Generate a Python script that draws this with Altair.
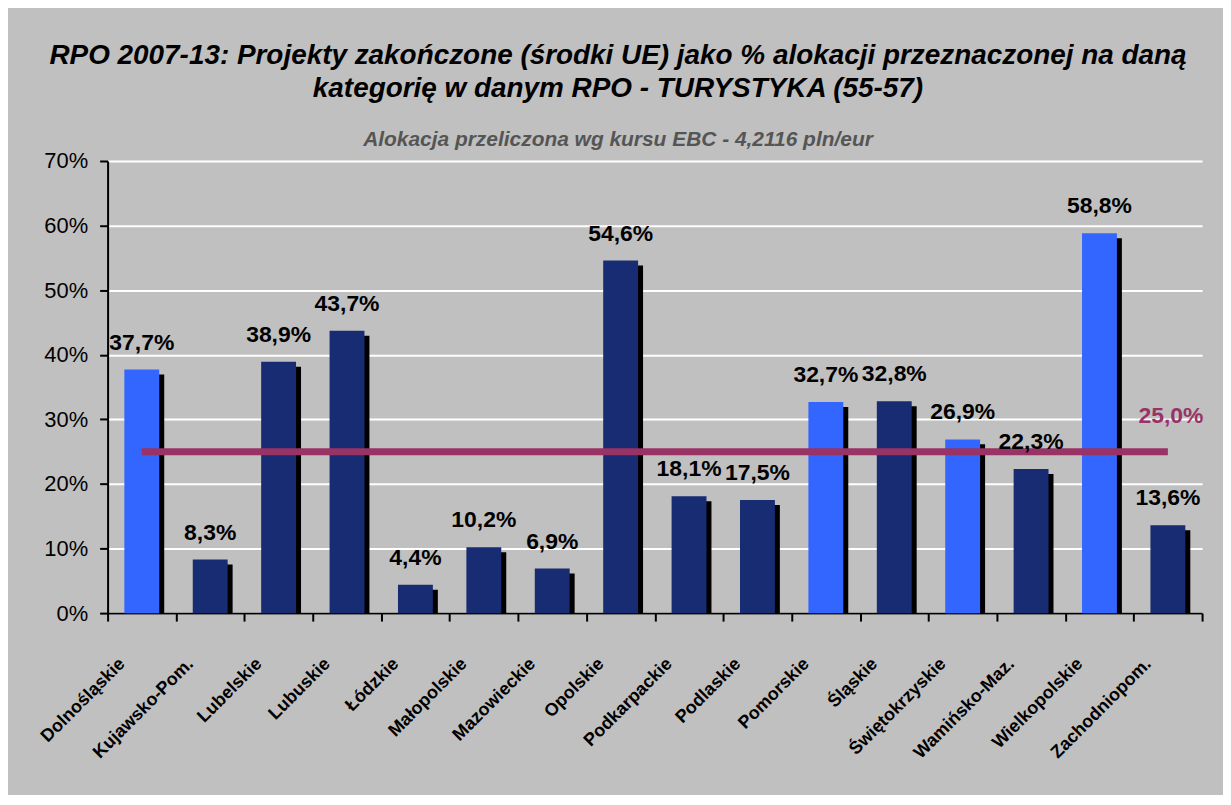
import altair as alt
import pandas as pd

categories = ["Dolnośląskie", "Kujawsko-Pom.", "Lubelskie", "Lubuskie", "Łódzkie",
              "Małopolskie", "Mazowieckie", "Opolskie", "Podkarpackie", "Podlaskie",
              "Pomorskie", "Śląskie", "Świętokrzyskie", "Wamińsko-Maz.", "Wielkopolskie",
              "Zachodniopom."]
values = [37.7, 8.3, 38.9, 43.7, 4.4, 10.2, 6.9, 54.6, 18.1, 17.5,
          32.7, 32.8, 26.9, 22.3, 58.8, 13.6]
highlighted = ["Dolnośląskie", "Pomorskie", "Świętokrzyskie", "Wielkopolskie"]
target = 25.0
y_ticks = [0, 10, 20, 30, 40, 50, 60, 70]

title_lines = ["RPO 2007-13: Projekty zakończone (środki UE) jako % alokacji przeznaczonej na daną",
               "kategorię w danym RPO - TURYSTYKA (55-57)"]
subtitle = "Alokacja przeliczona wg kursu EBC - 4,2116 pln/eur"

NAVY = "#172C72"
BLUE = "#3366FF"
MAROON = "#993366"
FONT = "Liberation Sans"

df = pd.DataFrame({
    "region": categories,
    "value": values,
    "kind": ["hi" if c in highlighted else "lo" for c in categories],
    "label": [f"{v:.1f}".replace(".", ",") + "%" for v in values],
})
ref = pd.DataFrame({"start": [categories[0]], "end": [categories[-1]], "y": [target],
                    "label": [f"{target:.1f}".replace(".", ",") + "%"]})

xscale = alt.Scale(domain=categories, paddingInner=0, paddingOuter=0)
yscale = alt.Scale(domain=[0, 70], nice=False)

x_enc = alt.X("region:N", scale=xscale, sort=categories, title=None,
              axis=alt.Axis(labelAngle=-45, labelAlign="right", labelBaseline="middle",
                            labelFont=FONT, labelFontSize=18, labelFontWeight="bold",
                            labelColor="#000000", labelOffset=-20, labelPadding=40,
                            tickBand="extent", ticks=True, tickSize=8,
                            tickWidth=2, tickColor="#000000", domainColor="#000000",
                            domainWidth=2, grid=False))
y_enc = alt.Y("value:Q", scale=yscale, title=None,
              axis=alt.Axis(values=y_ticks, labelExpr="datum.value + '%'",
                            labelFont=FONT, labelFontSize=22, labelColor="#000000",
                            labelPadding=12, tickSize=8, tickWidth=2, tickColor="#000000",
                            domainColor="#000000", domainWidth=2,
                            grid=True, gridColor="#FFFFFF", gridWidth=2))

base = alt.Chart(df)
bar_w = alt.RelativeBandSize(0.51)

shadow = base.mark_bar(color="#000000", xOffset=5, yOffset=5, clip=True,
                       width=bar_w).encode(x=x_enc, y=y_enc)

bars = base.mark_bar(width=bar_w).encode(
    x=x_enc, y=y_enc,
    color=alt.Color("kind:N", scale=alt.Scale(domain=["hi", "lo"], range=[BLUE, NAVY]),
                    legend=None))

labels = base.mark_text(font=FONT, fontSize=23, fontWeight="bold", color="#000000",
                        baseline="alphabetic", dy=-20).encode(
    x=alt.X("region:N", scale=xscale, sort=categories),
    y=alt.Y("value:Q", scale=yscale),
    text="label:N")

rule = alt.Chart(ref).mark_rule(color=MAROON, strokeWidth=7).encode(
    x=alt.X("start:N", scale=xscale, bandPosition=0.5),
    x2=alt.X2("end:N", bandPosition=0.5),
    y=alt.Y("y:Q", scale=yscale))

ref_label = alt.Chart(ref).mark_text(font=FONT, fontSize=23, fontWeight="bold",
                                     color=MAROON, baseline="alphabetic", dy=-29, dx=3).encode(
    x=alt.X("end:N", scale=xscale),
    y=alt.Y("y:Q", scale=yscale),
    text="label:N")

chart = alt.layer(shadow, bars, rule, labels, ref_label).properties(
    width=1099, height=454,
    background="#C0C0C0",
    padding={"left": 100, "top": 152, "right": 21, "bottom": 181},
    autosize=alt.AutoSizeParams(type="none"),
    title=alt.TitleParams(
        text=title_lines, subtitle=subtitle,
        font=FONT, fontSize=28, fontStyle="italic", fontWeight="bold", color="#000000",
        lineHeight=33,
        subtitleFont=FONT, subtitleFontSize=21, subtitleFontStyle="italic",
        subtitleFontWeight="bold", subtitleColor="#555555",
        subtitlePadding=26, anchor="middle", offset=0, dx=-37),
).configure_view(stroke=None)

chart.save("out.html", embed_options={"renderer": "svg", "actions": False})
